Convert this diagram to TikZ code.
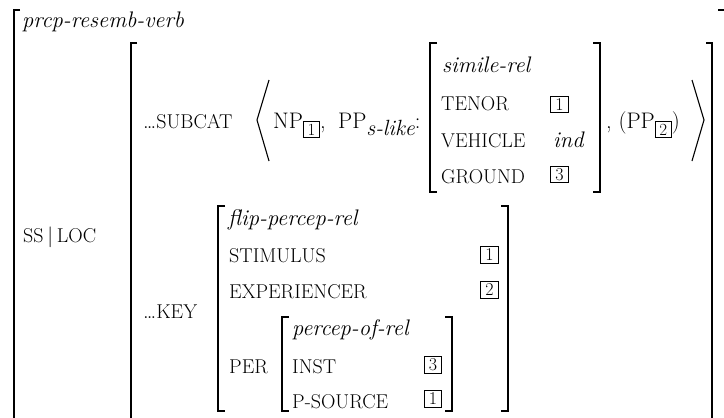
\documentclass[tikz,border=0pt]{standalone}
\usepackage{fontspec}
\setmainfont{Latin Modern Roman}

\newcommand{\feat}[1]{{\fontsize{20}{20}\selectfont #1}}
\newcommand{\subtag}[1]{\raisebox{-7pt}{\setlength{\fboxsep}{0pt}\setlength{\fboxrule}{0.8pt}\fbox{\rule[-1.5pt]{0pt}{15pt}\makebox[15.5pt]{\fontsize{17}{17}\selectfont #1}}}}
\newcommand{\subtxt}[1]{\raisebox{-7pt}{\fontsize{22}{22}\selectfont\itshape #1}}

\begin{document}
\begin{tikzpicture}[x=1pt, y=-1pt,
        avmtxt/.style = {anchor=base west, inner sep=0pt, font=\fontsize{22.5}{27}\selectfont},
        tagbox/.style = {draw, line width=0.8pt, inner sep=0pt, minimum width=17.5pt, minimum height=16.5pt, font=\fontsize{18}{18}\selectfont},
        brk/.style    = {line width=1.3pt},
        angl/.style   = {line width=1.1pt}]

        \useasboundingbox (0,0) rectangle (724,418);

        % outer matrix
        \draw[brk] (20,10) -- (14,10) -- (14,418);
        \draw[brk] (718,10) -- (724,10);
        \node[avmtxt] (vtype) at (22,27) {\itshape prcp-resemb-verb};
        \node[avmtxt] (ssloc) at (23,242) {\feat{SS}\,$|$\,\feat{LOC}};

        % loc matrix
        \draw[brk] (137,43) -- (131,43) -- (131,418);
        \draw[brk] (706,43) -- (712,43) -- (712,418);
        \node[avmtxt] (subcat) at (143,128) {\ldots\feat{SUBCAT}};
        \node[avmtxt] (key)    at (143,318) {\ldots\feat{KEY}};

        % subcat list
        \draw[angl] (269,80) -- (257,120) -- (269,161);
        \draw[angl] (692,80) -- (704,120) -- (692,161);
        \node[avmtxt] (np)    at (273,128) {NP\subtag{1},};
        \node[avmtxt] (pp)    at (338,128) {PP\subtxt{s-like}:};
        \node[avmtxt] (pptwo) at (606,128) {, (PP\subtag{2})};

        % simile-rel
        \draw[brk] (437,43) -- (430,43) -- (430,192) -- (437,192);
        \draw[brk] (593,43) -- (600,43) -- (600,192) -- (593,192);
        \node[avmtxt] (simtype) at (442,72)  {\itshape simile-rel};
        \node[avmtxt] (tenor)   at (441,110) {\feat{TENOR}};
        \node[avmtxt] (vehicle) at (441,147) {\feat{VEHICLE}};
        \node[avmtxt] (ground)  at (441,183) {\feat{GROUND}};
        \node[tagbox] (tenortag)  at (559.5,104.5) {1};
        \node[avmtxt] (vehval)    at (553,147)     {\itshape ind};
        \node[tagbox] (groundtag) at (559.5,174.5) {3};

        % flip-percep-rel
        \draw[brk] (225,206) -- (218,206) -- (218,411) -- (225,411);
        \draw[brk] (501,206) -- (508,206) -- (508,411) -- (501,411);
        \node[avmtxt] (fliptype) at (228,225) {\itshape flip-percep-rel};
        \node[avmtxt] (stim)     at (229,262) {\feat{STIMULUS}};
        \node[avmtxt] (exper)    at (229,298) {\feat{EXPERIENCER}};
        \node[avmtxt] (per)      at (229,373) {\feat{PER}};
        \node[tagbox] (stimtag)  at (489.5,255) {1};
        \node[tagbox] (expertag) at (489.5,290) {2};

        % percep-of-rel
        \draw[brk] (289,317) -- (282,317) -- (282,411) -- (289,411);
        \draw[brk] (445,317) -- (452,317) -- (452,411) -- (445,411);
        \node[avmtxt] (perctype) at (292,335) {\itshape percep-of-rel};
        \node[avmtxt] (inst)     at (292,373) {\feat{INST}};
        \node[avmtxt] (psrc)     at (292,408) {\feat{P-SOURCE}};
        \node[tagbox] (insttag)  at (433,365) {3};
        \node[tagbox] (psrctag)  at (433,399) {1};
\end{tikzpicture}
\end{document}
